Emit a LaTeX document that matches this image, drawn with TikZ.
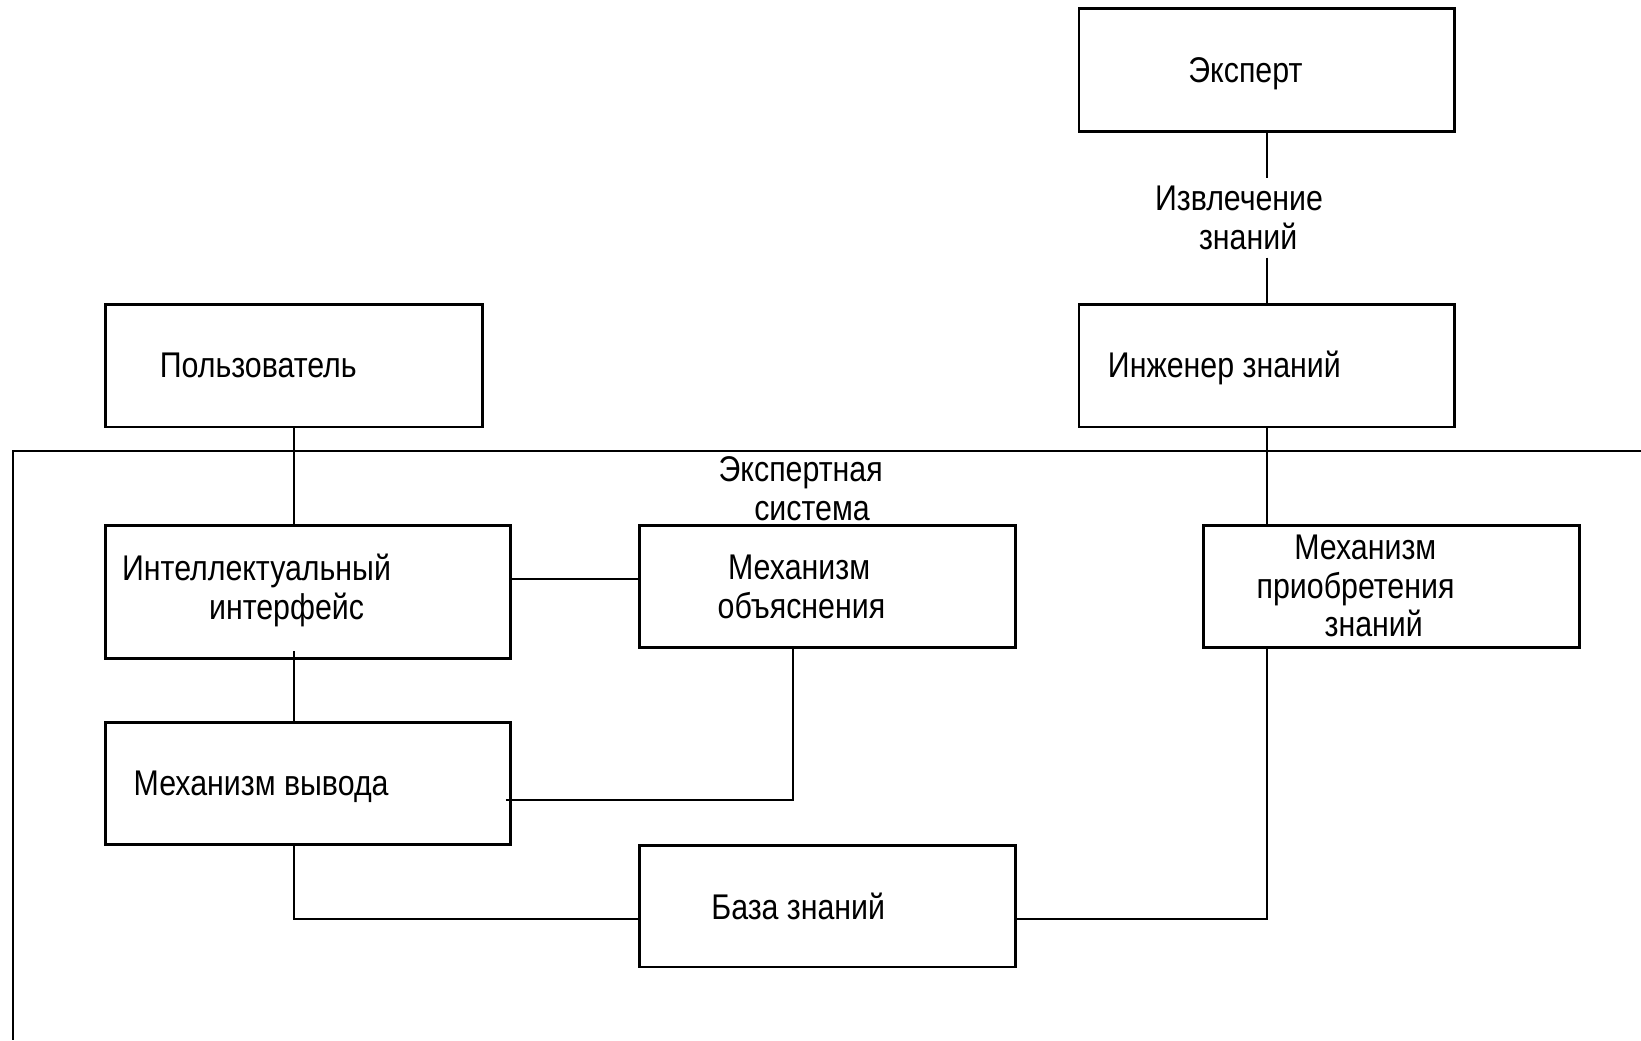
\documentclass[tikz,border=0pt]{standalone}
\usepackage{fontspec}
\setmainfont{Liberation Sans}[FakeStretch=0.85]
\usetikzlibrary{fit}
\begin{document}
\begin{tikzpicture}[x=0.01cm,y=-0.01cm,
  box/.style={draw,line width=0.8pt,inner sep=0pt},
  conn/.style={line width=0.55pt},
  txt/.style={inner xsep=0pt,inner ysep=1.5pt,font=\fontsize{9.7}{10.5}\selectfont}]
\useasboundingbox (0,0) rectangle (1568,994);
% boxes
\node[box,fit={(1031,8)(1390,126)}] (expert) {};
\node[box,fit={(1031,291)(1390,408)}] (eng) {};
\node[box,fit={(101,291)(461,408)}] (user) {};
\node[box,fit={(101,502)(488,629)}] (ii) {};
\node[box,fit={(611,502)(970,619)}] (expl) {};
\node[box,fit={(1150,502)(1509,619)}] (acq) {};
\node[box,fit={(101,690)(488,807)}] (inf) {};
\node[box,fit={(611,808)(970,924)}] (kb) {};
% frame of the expert system
\coordinate (frTR) at (1568,431);
\coordinate (frTL) at (12,431);
\coordinate (frBL) at (12,994);
\draw[conn] (frTR) -- (frTL) -- (frBL);
% texts
\node[txt,anchor=base] (texpert) at (1190,79) {Эксперт};
\node[txt,align=left,anchor=west,inner ysep=2pt] (extr) at (1103,208) {Извлечение\\\hspace*{0.42cm}знаний};
\node[txt,anchor=base west] (tuser) at (152,361) {Пользователь};
\node[txt,anchor=base west] (teng) at (1058,361) {Инженер знаний};
\node[txt,align=left,anchor=west] (tes) at (686,467) {Экспертная\\\hspace*{0.34cm}система};
\node[txt,align=left,anchor=west] (tii) at (116,564) {Интеллектуальный\\\hspace*{0.83cm}интерфейс};
\node[txt,align=left,anchor=west] (texpl) at (685,561) {\hspace*{0.10cm}Механизм\\объяснения};
\node[txt,align=left,anchor=west] (tacq) at (1200,560) {\hspace*{0.36cm}Механизм\\приобретения\\\hspace*{0.65cm}знаний};
\node[txt,anchor=base west] (tinf) at (127,760) {Механизм вывода};
\node[txt,anchor=base west] (tkb) at (679,879) {База знаний};
% connectors
\draw[conn] (expert.south) -- (expert.south |- extr.north);
\draw[conn] (expert.south |- extr.south) -- (eng.north);
\draw[conn] (user.south) -- (user.south |- ii.north);
\draw[conn] (eng.south) -- (eng.south |- acq.north);
\draw[conn] ([yshift=0.075cm]expl.west -| ii.east) -- ([yshift=0.075cm]expl.west);
\draw[conn] ([yshift=0.08cm]ii.south -| user.south) -- (inf.north -| user.south);
\draw[conn] ([xshift=-0.06cm,yshift=-0.155cm]inf.east) -| ([xshift=-0.325cm]expl.south);
\draw[conn] (inf.south -| user.south) |- ([yshift=-0.12cm]kb.west);
\draw[conn] ([yshift=-0.12cm]kb.east) -| (acq.south -| eng.south);
\end{tikzpicture}
\end{document}
